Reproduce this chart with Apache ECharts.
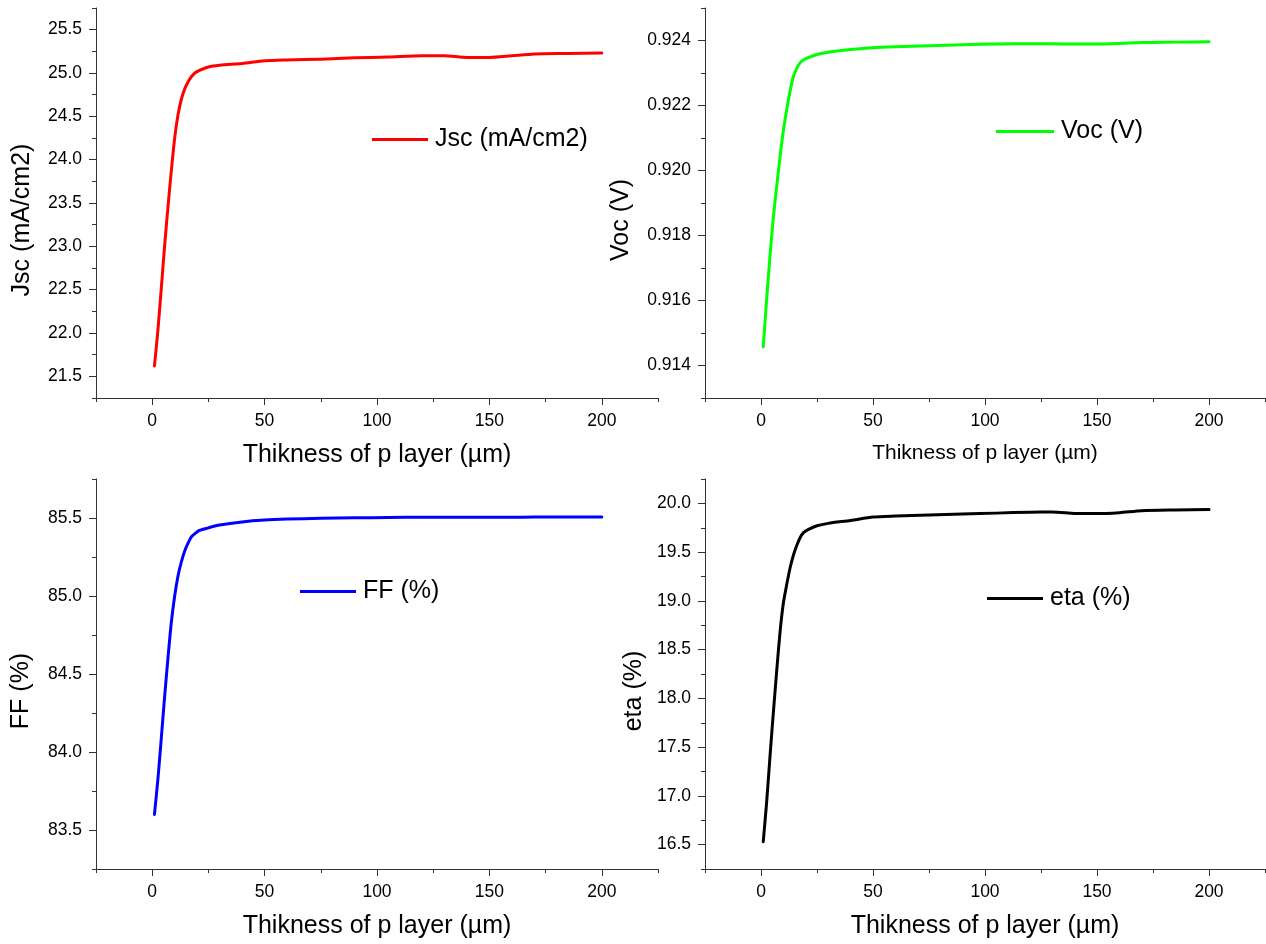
<!DOCTYPE html>
<html>
<head>
<meta charset="utf-8">
<script src="https://cdn.jsdelivr.net/npm/echarts@6/dist/echarts.min.js"></script>
<style>
html, body { margin: 0; padding: 0; background: #ffffff; }
#c { width: 1266px; height: 944px; }
</style>
</head>
<body>
<div id="c"></div>
<script>
// ---------------- data ----------------
const thickness = [1, 2.5, 4, 5.5, 7, 8.5, 10, 11.5, 13, 14.5, 16, 17.5, 19, 21, 25, 30, 40, 50, 60, 75, 90, 105, 120, 130, 140, 150, 160, 170, 185, 200];
const jsc = [21.62, 22.02, 22.50, 23.00, 23.45, 23.87, 24.25, 24.52, 24.70, 24.82, 24.90, 24.96, 25.00, 25.03, 25.07, 25.09, 25.11, 25.14, 25.15, 25.16, 25.175, 25.185, 25.20, 25.20, 25.18, 25.18, 25.20, 25.22, 25.225, 25.23];
const voc = [0.91457, 0.91601, 0.91735, 0.91855, 0.91951, 0.92042, 0.92123, 0.92188, 0.92245, 0.92290, 0.92315, 0.92332, 0.92340, 0.92347, 0.92357, 0.92364, 0.92372, 0.92378, 0.92381, 0.92384, 0.92387, 0.92389, 0.92390, 0.92390, 0.92389, 0.92389, 0.92391, 0.92394, 0.92395, 0.92396];
const ff = [83.60, 83.82, 84.08, 84.35, 84.60, 84.83, 85.00, 85.13, 85.22, 85.29, 85.34, 85.38, 85.40, 85.42, 85.437, 85.455, 85.475, 85.487, 85.493, 85.498, 85.501, 85.503, 85.505, 85.505, 85.505, 85.505, 85.505, 85.506, 85.506, 85.506];
const eta = [16.53, 16.93, 17.40, 17.85, 18.28, 18.68, 18.98, 19.17, 19.34, 19.47, 19.57, 19.65, 19.70, 19.73, 19.77, 19.795, 19.825, 19.86, 19.87, 19.88, 19.89, 19.90, 19.91, 19.912, 19.897, 19.895, 19.905, 19.925, 19.933, 19.938];

const xTicks = [0, 50, 100, 150, 200];
const jscTicks = [21.5, 22.0, 22.5, 23.0, 23.5, 24.0, 24.5, 25.0, 25.5];
const vocTicks = [0.914, 0.916, 0.918, 0.920, 0.922, 0.924];
const ffTicks = [83.5, 84.0, 84.5, 85.0, 85.5];
const etaTicks = [16.5, 17.0, 17.5, 18.0, 18.5, 19.0, 19.5, 20.0];

const xTitle = 'Thikness of p layer (\u00b5m)';
const seriesNames = ['Jsc (mA/cm2)', 'Voc (V)', 'FF (%)', 'eta (%)'];

// ---------------- layout / style ----------------
const FONT = "'Liberation Sans', Arial, Helvetica, sans-serif";
const AX = '#333333';

const panels = [
  { grid: { left: 96, top: 8, width: 562, height: 390 }, xNameSize: 25, yGap: 61,
    yMin: 21.25, yMax: 25.75, yMinor: 0.25, ticks: jscTicks, dec: 1, values: jsc,
    name: seriesNames[0], color: '#ff0000', legend: { left: 372, top: 127, w: 56 } },
  { grid: { left: 705, top: 8, width: 560, height: 390 }, xNameSize: 21, yGap: 71,
    yMin: 0.913, yMax: 0.925, yMinor: 0.001, ticks: vocTicks, dec: 3, values: voc,
    name: seriesNames[1], color: '#00ff00', legend: { left: 996, top: 119, w: 58 } },
  { grid: { left: 96, top: 479, width: 562, height: 390 }, xNameSize: 25, yGap: 62,
    yMin: 83.25, yMax: 85.75, yMinor: 0.25, ticks: ffTicks, dec: 1, values: ff,
    name: seriesNames[2], color: '#0000ff', legend: { left: 300, top: 579, w: 56 } },
  { grid: { left: 705, top: 479, width: 560, height: 390 }, xNameSize: 25, yGap: 58,
    yMin: 16.25, yMax: 20.25, yMinor: 0.25, ticks: etaTicks, dec: 1, values: eta,
    name: seriesNames[3], color: '#000000', legend: { left: 987, top: 586, w: 56 } }
];

const grids = [], xAxes = [], yAxes = [], series = [], legends = [];

panels.forEach((p, i) => {
  grids.push(Object.assign({ containLabel: false, outerBoundsMode: 'none' }, p.grid));

  // main x axis (line, major ticks, labels, title)
  xAxes.push({
    type: 'value', gridIndex: i, min: -25, max: 225, position: 'bottom',
    axisLine: { show: true, onZero: false, lineStyle: { color: AX, width: 1 } },
    axisTick: { show: true, inside: false, length: 7, customValues: xTicks, lineStyle: { color: AX, width: 1 } },
    axisLabel: { show: true, customValues: xTicks, margin: 14, fontSize: 17.5, color: '#000', fontFamily: FONT },
    splitLine: { show: false },
    name: xTitle, nameLocation: 'middle', nameGap: 45,
    nameTextStyle: { fontSize: p.xNameSize, color: '#000', fontFamily: FONT }
  });
  // minor x ticks
  xAxes.push({
    type: 'value', gridIndex: i, min: -25, max: 225, interval: 25, position: 'bottom',
    axisLine: { show: false, onZero: false },
    axisTick: { show: true, inside: false, length: 4, lineStyle: { color: AX, width: 1 } },
    axisLabel: { show: false }, splitLine: { show: false }
  });

  // main y axis
  yAxes.push({
    type: 'value', gridIndex: i, min: p.yMin, max: p.yMax, position: 'left',
    axisLine: { show: true, onZero: false, lineStyle: { color: AX, width: 1 } },
    axisTick: { show: true, inside: false, length: 7, customValues: p.ticks, lineStyle: { color: AX, width: 1 } },
    axisLabel: { show: true, customValues: p.ticks, margin: 14, fontSize: 17.5, color: '#000', fontFamily: FONT,
                 formatter: (v) => Number(v).toFixed(p.dec) },
    splitLine: { show: false },
    name: p.name, nameLocation: 'middle', nameGap: p.yGap,
    nameTextStyle: { fontSize: 25, color: '#000', fontFamily: FONT, padding: [0, 34, 0, 0] }
  });
  // minor y ticks
  yAxes.push({
    type: 'value', gridIndex: i, min: p.yMin, max: p.yMax, interval: p.yMinor, position: 'left',
    axisLine: { show: false, onZero: false },
    axisTick: { show: true, inside: false, length: 4, lineStyle: { color: AX, width: 1 } },
    axisLabel: { show: false }, splitLine: { show: false }
  });

  series.push({
    type: 'line', name: p.name, xAxisIndex: 2 * i, yAxisIndex: 2 * i,
    data: thickness.map((t, k) => [t, p.values[k]]),
    showSymbol: false, symbol: 'none', smooth: 0.25,
    lineStyle: { width: 3, color: p.color, cap: 'round', join: 'round' }, itemStyle: { color: p.color },
    emphasis: { disabled: true }, silent: true
  });

  legends.push({
    show: true, left: p.legend.left, top: p.legend.top, padding: 0, itemGap: 0,
    orient: 'horizontal', selectedMode: false,
    itemWidth: p.legend.w, itemHeight: 3, icon: 'rect',
    data: [p.name],
    textStyle: { fontSize: 25, color: '#000', fontFamily: FONT, padding: [0, 0, 0, 2] }
  });
});

const chart = echarts.init(document.getElementById('c'), null, { renderer: 'canvas' });
chart.setOption({
  animation: false,
  backgroundColor: '#ffffff',
  grid: grids,
  xAxis: xAxes,
  yAxis: yAxes,
  legend: legends,
  series: series
});
</script>
</body>
</html>
